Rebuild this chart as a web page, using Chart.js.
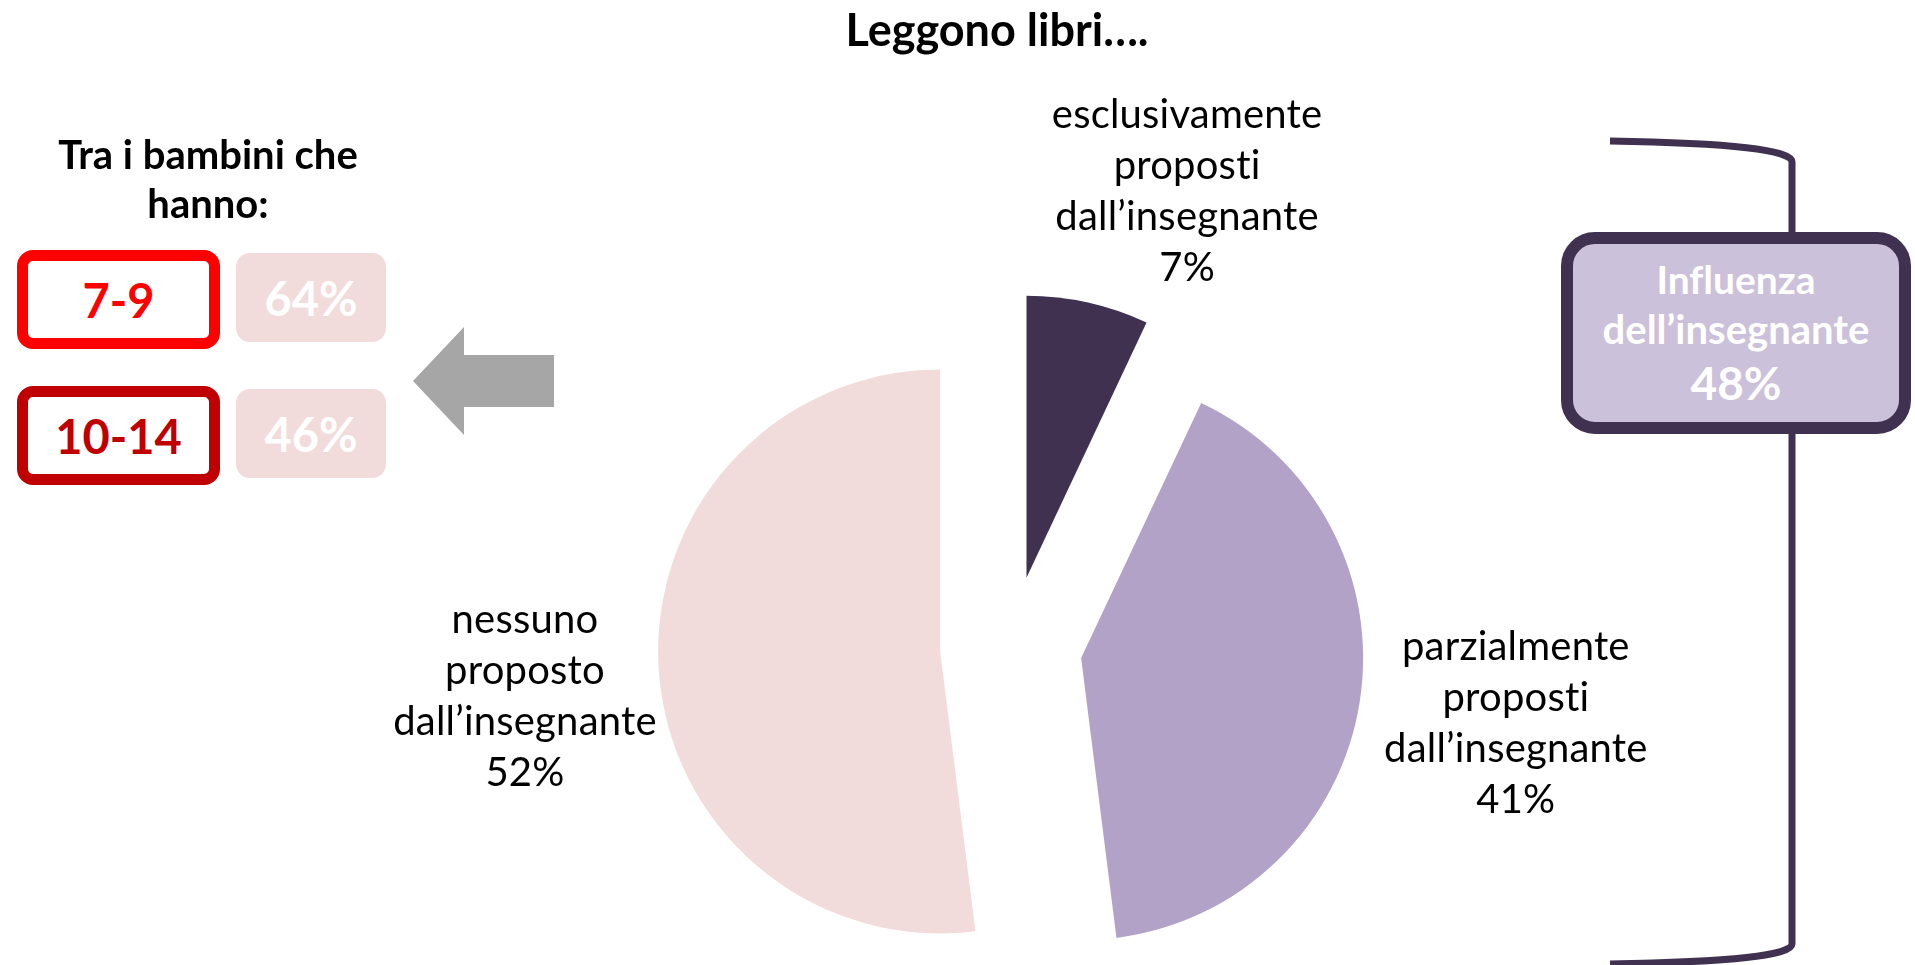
<!DOCTYPE html>
<html lang="it">
<head>
<meta charset="utf-8">
<title>Leggono libri</title>
<script src="https://cdn.jsdelivr.net/npm/chart.js@4/dist/chart.umd.min.js"></script>
<style>
  html, body { margin: 0; padding: 0; background: #fff; overflow: hidden; }
  body { width: 1915px; height: 965px; position: relative; font-family: Lato, "Open Sans", sans-serif; font-variant-ligatures: none; }
  #torta { position: absolute; left: 0; top: 0; }
  .txt { position: absolute; transform: translate(-50%, -50%); text-align: center; white-space: nowrap; }
  .box { position: absolute; box-sizing: border-box; display: flex; align-items: center; justify-content: center; font-weight: 700; }
  #deco { position: absolute; left: 0; top: 0; }
</style>
</head>
<body>
<canvas id="torta" width="1915" height="965"></canvas>
<svg id="deco" width="1915" height="965">
  <!-- freccia grigia -->
  <polygon points="413,381 464,327 464,355 554,355 554,407 464,407 464,435" fill="#A6A6A6"/>
  <!-- parentesi a destra -->
  <path d="M1610,141 Q1792,144 1792,162 L1792,944 Q1792,961 1610,964" fill="none" stroke="#403151" stroke-width="7"/>
</svg>
<div id="overlay"></div>

<script>
// dati del grafico
const categorie = [
    ["esclusivamente", "proposti", "dall’insegnante"],
    ["parzialmente", "proposti", "dall’insegnante"],
    ["nessuno", "proposto", "dall’insegnante"]
]
const percentuali = [7, 41, 52]
const coloriFette = ["#403151", "#B2A2C7", "#F2DCDB"]

// riquadro a sinistra
const fasceEta = ["7-9", "10-14"]
const quoteFasce = [64, 46]

const titolo = "Leggono libri…."

function aggiungiTesto(testo, x, y, stile) {
    let d = document.createElement("div")
    d.className = "txt"
    d.style.left = x + "px"
    d.style.top = y + "px"
    d.style.cssText += stile
    d.innerHTML = testo
    document.getElementById("overlay").appendChild(d)
    return d
}

function aggiungiBox(testo, x, y, w, h, stile) {
    let d = document.createElement("div")
    d.className = "box"
    d.style.left = x + "px"
    d.style.top = y + "px"
    d.style.width = w + "px"
    d.style.height = h + "px"
    d.style.cssText += stile
    d.textContent = testo
    document.getElementById("overlay").appendChild(d)
    return d
}

function Initialisation() {
    // titolo + colonna di sinistra
    aggiungiTesto(titolo, 997, 29, "font-weight:700;font-size:45px;")
    aggiungiTesto("Tra i bambini che<br>hanno:", 208, 179, "font-weight:700;font-size:40px;line-height:49px;")

    let coloriBordo = ["#FF0000", "#C00000"]
    let yBox = [250, 386]
    fasceEta.forEach((f, i) => {
        aggiungiBox(f, 17, yBox[i], 203, 99,
            "border:11px solid " + coloriBordo[i] + ";border-radius:16px;color:" + coloriBordo[i] + ";font-size:47px;background:#fff;")
        aggiungiBox(quoteFasce[i] + "%", 236, yBox[i] + 3, 150, 89,
            "background:#F2DCDB;border-radius:14px;color:#fff;font-size:47px;")
    })

    // riquadro influenza dell'insegnante (esclusivamente + parzialmente)
    let influenza = percentuali[0] + percentuali[1]
    let b = aggiungiBox("", 1561, 232, 350, 202,
        "border:12px solid #403151;border-radius:34px;background:#CCC1DA;color:#fff;flex-direction:column;line-height:50px;")
    b.innerHTML = '<div style="font-size:39px">Influenza</div><div style="font-size:40px">dell’insegnante</div><div style="font-size:46px;line-height:58px">' + influenza + '%</div>'

    // spostamento delle fette (esploso) e posizione delle etichette
    const esploso = 71
    const distEtichetta = 500
    const ritocchi = [[67, 33], [11, -2], [13, 18]]

    const pluginFette = {
        id: "fetteEsplose",
        beforeDatasetDraw(chart, args) {
            const ctx = chart.ctx
            args.meta.data.forEach((arc, i) => {
                const mid = (arc.startAngle + arc.endAngle) / 2
                ctx.save()
                ctx.translate(Math.cos(mid) * esploso, Math.sin(mid) * esploso)
                arc.draw(ctx)
                ctx.restore()
            })
            return false
        },
        afterDatasetsDraw(chart) {
            const ctx = chart.ctx
            const meta = chart.getDatasetMeta(0)
            ctx.save()
            ctx.fillStyle = "#000"
            ctx.font = "40px Lato"
            if ("letterSpacing" in ctx) ctx.letterSpacing = "0.2px" // niente legature "ti"
            ctx.textAlign = "center"
            ctx.textBaseline = "middle"
            meta.data.forEach((arc, i) => {
                const mid = (arc.startAngle + arc.endAngle) / 2
                const cx = arc.x + Math.cos(mid) * distEtichetta + ritocchi[i][0]
                const cy = arc.y + Math.sin(mid) * distEtichetta + ritocchi[i][1]
                const righe = categorie[i].concat([percentuali[i] + "%"])
                const lh = 51
                righe.forEach((r, k) => {
                    ctx.fillText(r, cx, cy + (k - (righe.length - 1) / 2) * lh)
                })
            })
            ctx.restore()
        }
    }

    const canvas = document.getElementById("torta")
    new Chart(canvas, {
        type: "pie",
        data: {
            labels: categorie.map(c => c.join(" ")),
            datasets: [{
                data: percentuali,
                backgroundColor: coloriFette,
                borderWidth: 0
            }]
        },
        options: {
            responsive: false,
            animation: false,
            radius: 282,
            layout: {
                padding: { left: 107, right: 0, top: 329, bottom: 0 } // centro torta a (1011, 647)
            },
            plugins: {
                legend: { display: false },
                tooltip: { enabled: false }
            }
        },
        plugins: [pluginFette]
    })
}

window.addEventListener("DOMContentLoaded", () => {
    Initialisation()
})
</script>
</body>
</html>
